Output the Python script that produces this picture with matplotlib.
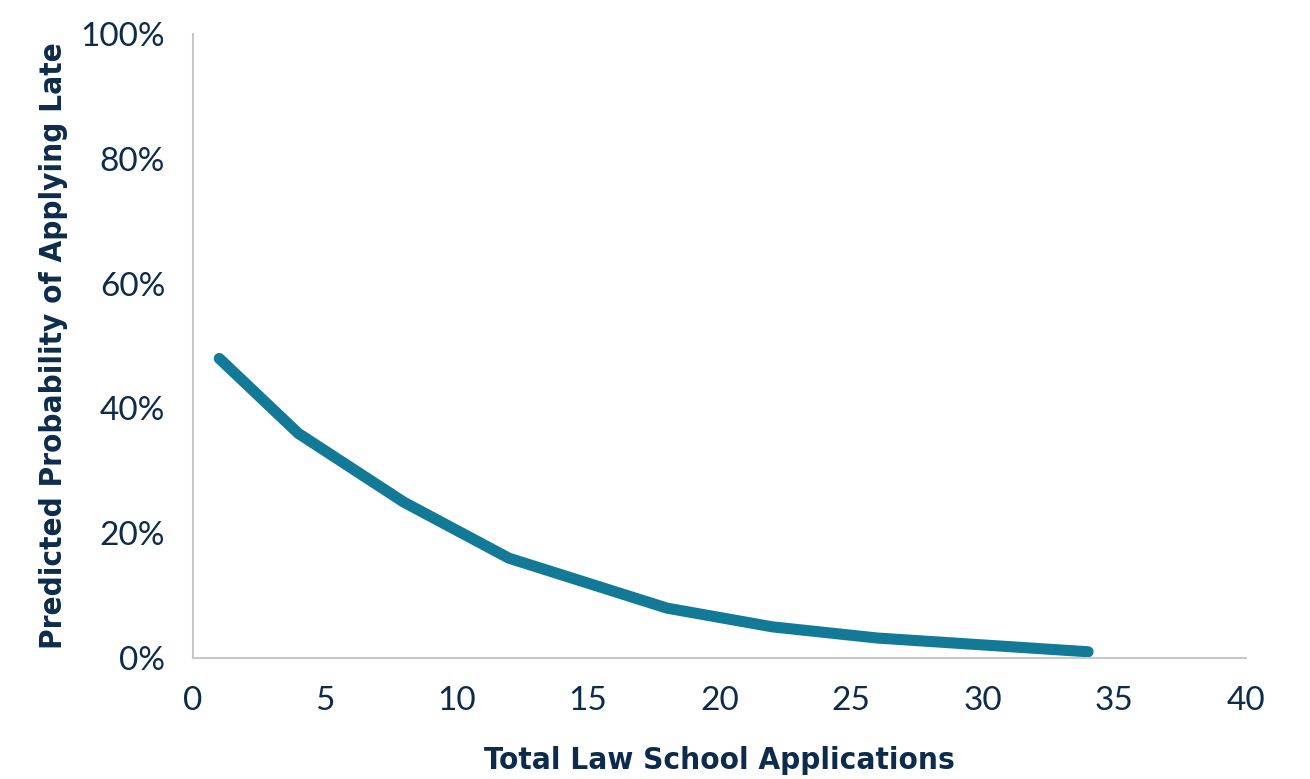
import matplotlib
matplotlib.use("Agg")
import matplotlib.pyplot as plt
from matplotlib.ticker import PercentFormatter

# predicted probability of a late application by number of applications
applications = [1, 4, 8, 12, 18, 22, 26, 34]
prob_late = [48.0, 36.0, 25.0, 16.0, 8.0, 5.0, 3.2, 1.0]

x_ticks = [0, 5, 10, 15, 20, 25, 30, 35, 40]
y_ticks = [0, 20, 40, 60, 80, 100]

TEXT = "#0d2b4a"
LINE = "#127a96"
GRID = "#c8c8c8"

fig = plt.figure(figsize=(13.1, 7.79), dpi=100)
ax = fig.add_axes([0.1473, 0.1553, 0.8039, 0.8011])

ax.plot(applications, prob_late, color=LINE, linewidth=8,
        solid_capstyle="round", solid_joinstyle="round")

ax.set_xlim(0, 40)
ax.set_ylim(0, 100)
ax.set_xticks(x_ticks)
ax.set_yticks(y_ticks)
ax.yaxis.set_major_formatter(PercentFormatter(decimals=0))

for side in ["top", "right"]:
    ax.spines[side].set_visible(False)
for side in ["left", "bottom"]:
    ax.spines[side].set_color(GRID)
    ax.spines[side].set_linewidth(1.5)

ax.tick_params(length=0, labelsize=24, labelcolor=TEXT)
ax.tick_params(axis="x", pad=20)
ax.tick_params(axis="y", pad=20)
for lbl in ax.get_xticklabels() + ax.get_yticklabels():
    lbl.set_family("Lato")
    lbl.set_color(TEXT)

ax.set_xlabel("Total Law School Applications", fontsize=22.5, fontweight="bold",
              color=TEXT, family="DejaVu Sans", fontstretch="condensed", labelpad=22)
ax.set_ylabel("Predicted Probability of Applying Late", fontsize=22.5, fontweight="bold",
              color=TEXT, family="DejaVu Sans", fontstretch="condensed", labelpad=9)

fig.savefig("out.png", dpi=100)
